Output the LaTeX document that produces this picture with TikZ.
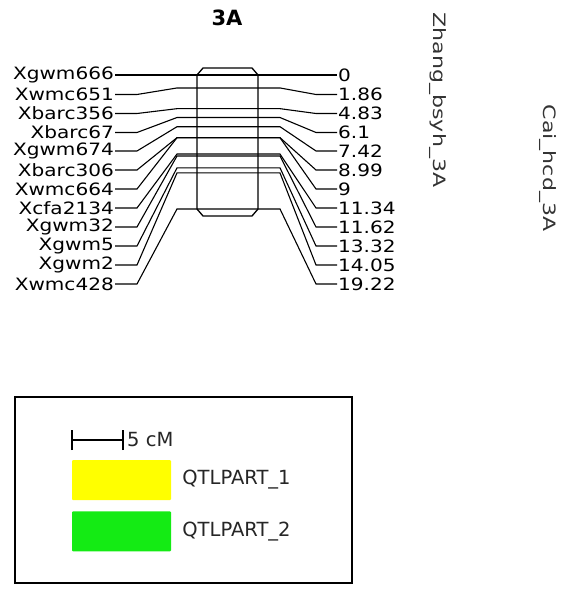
\documentclass[tikz,border=0pt]{standalone}
\usepackage{fontspec}
\setmainfont{DejaVu Sans}
\newfontfamily\mapfont[FakeStretch=1.18]{DejaVu Sans}
\usepackage{tikz}
\usetikzlibrary{positioning}
\definecolor{qtlyellow}{RGB}{255,255,0}
\definecolor{qtlgreen}{RGB}{20,235,20}
% one marker: id, name, position (cM), label row (y)
\newcommand{\Marker}[4]{%
  \node[mlab, anchor=east] (l#1) at (114,#4) {#2};
  \node[mlab, anchor=west] (r#1) at (338,#4) {#3};
  \coordinate (cl#1) at (197,{75+6.97*#3});
  \coordinate (cr#1) at (258,{75+6.97*#3});
  \draw[mline] ([xshift=1pt]l#1.east) -- ++(22,0) -- ([xshift=-20pt]cl#1) -- (cl#1) -- (cr#1)
    -- ([xshift=22pt]cr#1) -- ([xshift=-22pt]r#1.west) -- ([xshift=-1pt]r#1.west);
}

\begin{document}
\begin{tikzpicture}[
x=1pt, y=-1pt,
mlab/.style={font=\mapfont\fontsize{17}{18}\selectfont, inner sep=0pt},
mline/.style={line width=1.1pt},
chrom/.style={line width=1.3pt},
tag/.style={font=\mapfont\fontsize{17}{18}\selectfont, text=black!80, rotate=-90, xscale=1.1, inner sep=0pt},
swatch/.style={minimum width=99pt, minimum height=40pt, inner sep=0pt, rounded corners=1pt},
legtext/.style={font=\fontsize{19.5}{20}\selectfont, text=black!85, inner sep=0pt}
]
\useasboundingbox (0,0) rectangle (560,594);
\node[font=\bfseries\fontsize{21}{22}\selectfont] (title) at (227,18) {3A};
\node[tag] (study1) at (438,100) {Zhang\_bsyh\_3A};
\node[tag] (study2) at (548,168) {Cai\_hcd\_3A};
\Marker{a}{Xgwm666}{0}{75}
\Marker{b}{Xwmc651}{1.86}{94.5}
\Marker{c}{Xbarc356}{4.83}{113.5}
\Marker{d}{Xbarc67}{6.1}{132.5}
\Marker{e}{Xgwm674}{7.42}{151}
\Marker{f}{Xbarc306}{8.99}{170}
\Marker{g}{Xwmc664}{9}{189}
\Marker{h}{Xcfa2134}{11.34}{208}
\Marker{i}{Xgwm32}{11.62}{227}
\Marker{j}{Xgwm5}{13.32}{246}
\Marker{k}{Xgwm2}{14.05}{265}
\Marker{m}{Xwmc428}{19.22}{284}
\draw[chrom] (197,75) -- (203,68) -- (252,68) -- (258,75) -- (258,209)
  -- (252,216) -- (203,216) -- (197,209) -- cycle;
% legend
\draw[line width=1.4pt] (15,397) rectangle (352,583);
\coordinate (sb1) at (72,440);
\coordinate (sb2) at (123,440);
\draw[line width=1.2pt] (sb1) -- (sb2);
\draw[line width=1.2pt] ([yshift=-10pt]sb1) -- ([yshift=10pt]sb1);
\draw[line width=1.2pt] ([yshift=-10pt]sb2) -- ([yshift=10pt]sb2);
\node[legtext, anchor=west] (scale) at ([xshift=4pt]sb2) {5 cM};
\node[swatch, fill=qtlyellow] (q1) at (121.5,480) {};
\node[swatch, fill=qtlgreen, below=11pt of q1] (q2) {};
\node[legtext, right=11pt of q1] (q1t) {QTLPART\_1};
\node[legtext, right=11pt of q2] (q2t) {QTLPART\_2};
\end{tikzpicture}
\end{document}
